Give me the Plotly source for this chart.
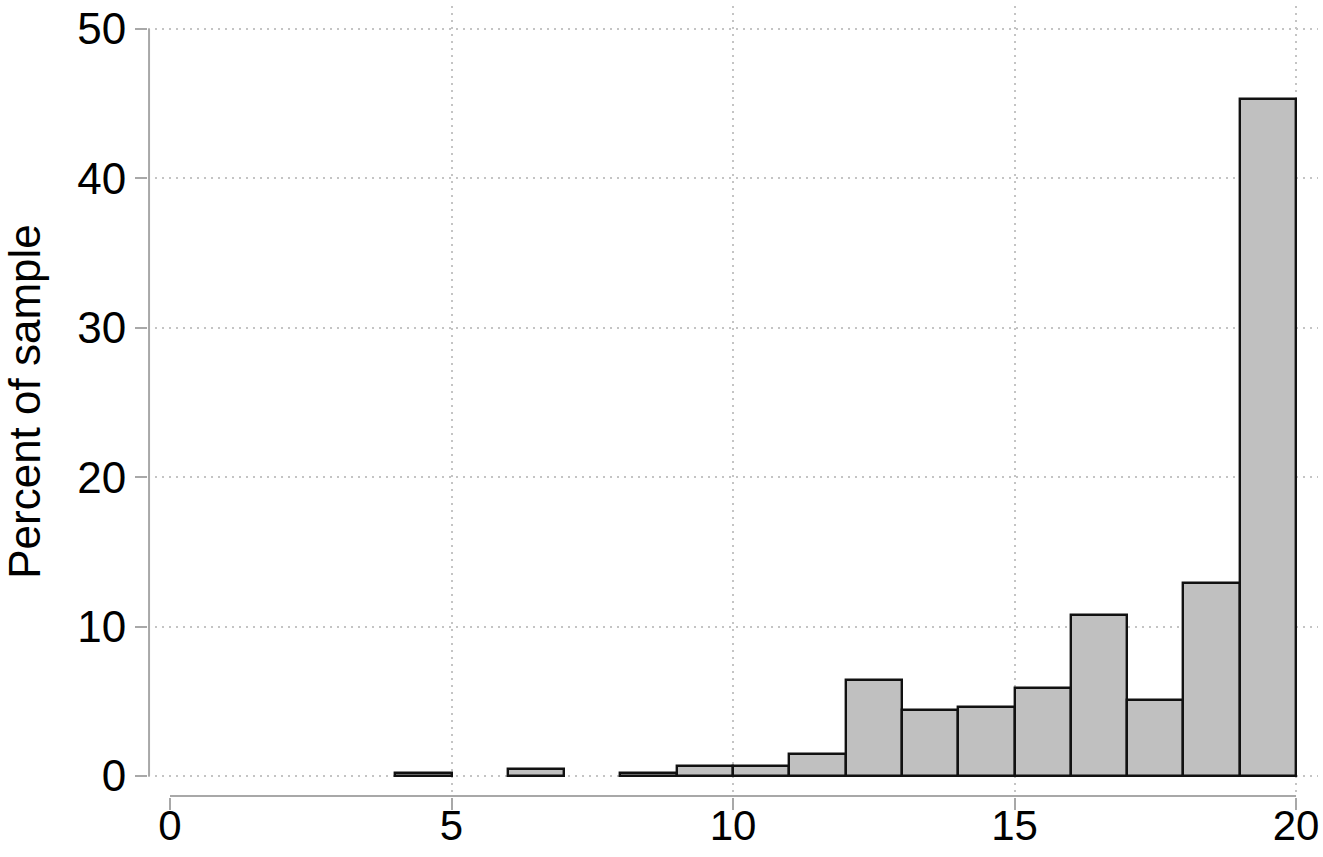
import plotly.graph_objects as go

# Histogram data (bin width 1), percent of sample
bin_left = [4, 6, 8, 9, 10, 11, 12, 13, 14, 15, 16, 17, 18, 19]
percent = [0.2, 0.5, 0.2, 0.7, 0.7, 1.5, 6.4, 4.4, 4.6, 5.9, 10.8, 5.1, 12.9, 45.3]
bin_width = 1

x_ticks = [0, 5, 10, 15, 20]
x_grid = [5, 10, 15, 20]
y_ticks = [0, 10, 20, 30, 40, 50]

FONT = "Liberation Sans, Arial, Helvetica, sans-serif"
FS = 44
AXIS_GRAY = "#a8a8a8"
GRID_GRAY = "#c4c4c4"

centers = [b + bin_width / 2 for b in bin_left]

fig = go.Figure()
fig.add_trace(go.Bar(
    x=centers, y=percent, width=[bin_width] * len(centers),
    marker=dict(color="#c0c0c0", line=dict(color="#111111", width=2.4)),
    showlegend=False, hoverinfo="x+y",
))

x_range = [-0.391, 20.39]
y_range = [-1.406, 51.54]

fig.update_layout(
    width=1323, height=857,
    margin=dict(l=148, r=5, t=6, b=60, autoexpand=False),
    paper_bgcolor="white", plot_bgcolor="white",
    font=dict(family=FONT, size=FS, color="black"),
    bargap=0,
    # labels of the x axis
    xaxis=dict(
        range=x_range, tickvals=x_ticks, ticktext=[str(v) for v in x_ticks],
        showgrid=False, zeroline=False, showline=False, automargin=False,
        ticks="",
        tickfont=dict(size=42, family=FONT, color="black"),
        fixedrange=True,
    ),
    # vertical dotted grid (none at 0)
    xaxis2=dict(
        range=x_range, overlaying="x", tickvals=x_grid, showticklabels=False,
        showgrid=True, gridcolor=GRID_GRAY, gridwidth=1.5, griddash="2px,5px",
        zeroline=False, showline=False, ticks="", matches="x", automargin=False,
    ),
    # x tick marks
    xaxis3=dict(
        range=x_range, overlaying="x", tickvals=x_ticks, showticklabels=False,
        showgrid=False, zeroline=False, showline=False, matches="x", automargin=False,
        ticks="outside", ticklen=12, tickwidth=2, tickcolor=AXIS_GRAY,
    ),
    yaxis=dict(
        range=y_range, tickvals=y_ticks, ticktext=[str(v) for v in y_ticks],
        showgrid=True, gridcolor=GRID_GRAY, gridwidth=1.5, griddash="2px,5px",
        zeroline=False, showline=False, automargin=False,
        ticks="outside", ticklen=12, tickwidth=2, tickcolor=AXIS_GRAY,
        tickfont=dict(size=FS, family=FONT, color="black"),
        title=dict(text="Percent of sample", font=dict(size=FS, family=FONT, color="black"), standoff=28),
        fixedrange=True,
    ),
)

# invisible traces to activate the overlay x axes
for ax in ("x2", "x3"):
    fig.add_trace(go.Scatter(x=[x_range[0]], y=[y_range[0]], xaxis=ax, mode="markers",
                             marker=dict(opacity=0), showlegend=False, hoverinfo="skip"))

# Stata-style detached axis lines
fig.add_shape(type="line", xref="x domain", yref="y", x0=0.0009, x1=0.0009, y0=0, y1=50,
              line=dict(color=AXIS_GRAY, width=2), layer="above")
fig.add_shape(type="line", xref="x", yref="y domain", x0=0, x1=20, y0=0.0013, y1=0.0013,
              line=dict(color=AXIS_GRAY, width=2), layer="above")

fig.write_html("out.html")
